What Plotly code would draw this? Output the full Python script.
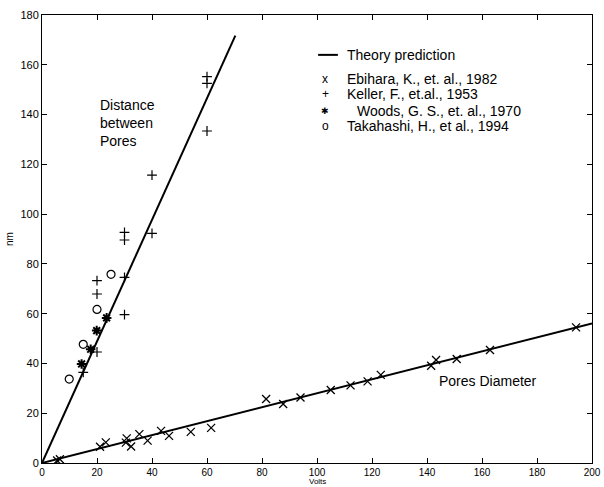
import plotly.graph_objects as go

# Theory lines (two straight predictions through origin)
theory_steep_x = [0, 70.3]
theory_steep_y = [0, 171.7]
theory_diam_x = [0, 200]
theory_diam_y = [0, 56.1]

# Ebihara, K., et. al., 1982 (x)
ebihara_x = [5.5, 6.5, 21.1, 23.2, 30.5, 30.8, 32.4, 35.4, 38.4, 43.3, 46.2, 54.1, 61.5,
             81.5, 87.7, 94.0, 105.0, 112.2, 118.4, 123.2, 141.5, 143.3, 150.8, 162.9, 194.2]
ebihara_y = [1.0, 1.5, 6.5, 8.3, 8.2, 9.9, 6.6, 11.6, 9.0, 12.9, 10.9, 12.5, 14.1,
             25.7, 23.7, 26.3, 29.3, 31.2, 32.8, 35.4, 39.1, 41.4, 41.8, 45.4, 54.5]

# Keller, F., et.al., 1953 (+)
keller_x = [15, 20, 20, 20, 30, 30, 30, 30, 40, 40, 60, 60, 60]
keller_y = [36.4, 44.6, 67.9, 73.3, 59.6, 74.6, 89.6, 92.7, 92.3, 115.7, 133.4, 152.5, 155.2]

# Woods, G. S., et. al., 1970 (*)
woods_x = [14.4, 17.7, 19.9, 23.5]
woods_y = [39.8, 45.7, 53.2, 58.3]

# Takahashi, H., et al., 1994 (o)
takahashi_x = [9.9, 15.0, 20.0, 25.1]
takahashi_y = [33.7, 47.7, 61.7, 75.8]

x_ticks = [0, 20, 40, 60, 80, 100, 120, 140, 160, 180, 200]
y_ticks = [0, 20, 40, 60, 80, 100, 120, 140, 160, 180]

legend_symbols = ["x", "+", "\u2731", "o"]
legend_labels = ["Ebihara, K., et. al., 1982", "Keller, F., et.al., 1953",
                 "Woods, G. S., et. al., 1970", "Takahashi, H., et al., 1994"]

FONT = "Liberation Sans, Arial, sans-serif"

fig = go.Figure()
fig.add_trace(go.Scatter(x=theory_steep_x, y=theory_steep_y, mode="lines",
                         line=dict(color="black", width=2), name="Theory prediction"))
fig.add_trace(go.Scatter(x=theory_diam_x, y=theory_diam_y, mode="lines",
                         line=dict(color="black", width=2), name="Theory prediction"))
fig.add_trace(go.Scatter(x=ebihara_x, y=ebihara_y, mode="markers", name=legend_labels[0],
                         marker=dict(symbol="x-thin-open", size=8, color="black",
                                     line=dict(color="black", width=1.3))))
fig.add_trace(go.Scatter(x=keller_x, y=keller_y, mode="markers", name=legend_labels[1],
                         marker=dict(symbol="cross-thin-open", size=7, color="black",
                                     line=dict(color="black", width=1.2))))
fig.add_trace(go.Scatter(x=woods_x, y=woods_y, mode="markers", name=legend_labels[2],
                         marker=dict(symbol="asterisk-open", size=8, color="black",
                                     line=dict(color="black", width=2))))
fig.add_trace(go.Scatter(x=takahashi_x, y=takahashi_y, mode="markers", name=legend_labels[3],
                         marker=dict(symbol="circle-open", size=8, color="black",
                                     line=dict(color="black", width=1.2))))

# Text-style legend (as in the original figure)
fig.add_shape(type="line", xref="paper", yref="paper", x0=0.502, x1=0.538, y0=0.911, y1=0.911,
              line=dict(color="black", width=2))
fig.add_annotation(xref="paper", yref="paper", x=0.551, y=0.911, text="Theory prediction",
                   showarrow=False, xanchor="left", yanchor="middle",
                   font=dict(family=FONT, size=14, color="black"))
leg_y = [0.857, 0.823, 0.786, 0.752]
leg_text_x = [0.551, 0.551, 0.569, 0.551]
for sym, lab, yy, tx in zip(legend_symbols, legend_labels, leg_y, leg_text_x):
    fig.add_annotation(xref="paper", yref="paper", x=0.515, y=yy, text=sym, showarrow=False,
                       xanchor="center", yanchor="middle",
                       font=dict(family=FONT, size=12 if sym != "\u2731" else 9, color="black"))
    fig.add_annotation(xref="paper", yref="paper", x=tx, y=yy, text=lab, showarrow=False,
                       xanchor="left", yanchor="middle",
                       font=dict(family=FONT, size=14, color="black"))

fig.add_annotation(x=20.4, y=148, text="Distance<br>between<br>Pores", showarrow=False,
                   xanchor="left", yanchor="top", align="left",
                   font=dict(family=FONT, size=14, color="black"))
fig.add_annotation(x=143.5, y=33.1, text="Pores Diameter", showarrow=False,
                   xanchor="left", yanchor="middle", align="left",
                   font=dict(family=FONT, size=14, color="black"))
# x-axis title placed at the very bottom edge, as in the original
fig.add_annotation(xref="paper", yref="paper", x=0.5, y=-0.0536, text="Volts",
                   showarrow=False, xanchor="center", yanchor="bottom", borderpad=0,
                   font=dict(family=FONT, size=8, color="black"))

axis_common = dict(showgrid=False, zeroline=False, showline=True, linecolor="black",
                   linewidth=1, mirror="ticks", ticks="inside", ticklen=5,
                   tickcolor="black", automargin=False)

fig.update_layout(
    width=604, height=487,
    margin=dict(l=42, r=12, t=15, b=24),
    paper_bgcolor="white", plot_bgcolor="white",
    font=dict(family=FONT, color="black"),
    showlegend=False,
    xaxis=dict(range=[0, 200], tickvals=x_ticks,
               tickfont=dict(family=FONT, size=10, color="black"), **axis_common),
    yaxis=dict(range=[0, 180], tickvals=y_ticks,
               tickfont=dict(family=FONT, size=11, color="black"),
               title=dict(text="nm", font=dict(family=FONT, size=10), standoff=4),
               **axis_common),
)

fig.write_html("out.html", config={"displayModeBar": False},
               post_script="document.body.style.margin='0';document.body.style.overflow='hidden';")
